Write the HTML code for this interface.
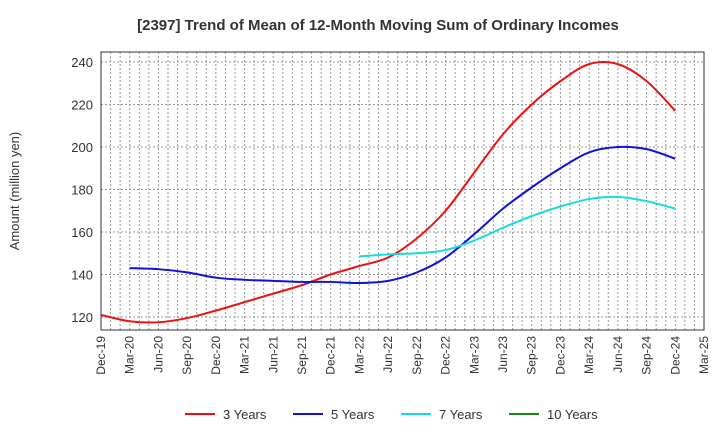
<!DOCTYPE html>
<html><head><meta charset="utf-8"><style>
body{margin:0;background:#fff;font-family:"Liberation Sans",Arial,sans-serif}
</style></head><body>
<svg width="720" height="440" xmlns="http://www.w3.org/2000/svg" font-family="Liberation Sans, Arial, sans-serif">
<text x="378" y="30" text-anchor="middle" font-size="15" font-weight="bold" fill="#333">[2397]  Trend of Mean of 12-Month Moving Sum of Ordinary Incomes</text>
<text transform="translate(19,191) rotate(-90)" text-anchor="middle" font-size="13" fill="#333">Amount (million yen)</text>
<g id="grid"></g>
<g id="axes"></g>
<g id="series"></g>
<g id="legend"></g>
</svg>
<script>
const xLabels=["Dec-19","Mar-20","Jun-20","Sep-20","Dec-20","Mar-21","Jun-21","Sep-21","Dec-21","Mar-22","Jun-22","Sep-22","Dec-22","Mar-23","Jun-23","Sep-23","Dec-23","Mar-24","Jun-24","Sep-24","Dec-24","Mar-25"];
const yTicks=[120,140,160,180,200,220,240];
const s3=[121,118,117.5,119.5,123,127,131,135,140,144,148,157,170,188,206,220,231,239,239,231,217];
const s5=[null,143,142.5,141,138.5,137.5,137,136.5,136.5,136,137,141,148,159,171,181,190,197.5,200,199,194.5];
const s7=[null,null,null,null,null,null,null,null,null,148.5,149.5,150,151.5,156,162,167.5,172,175.5,176.5,174.5,171];
const s10=[];
const seriesNames=["3 Years","5 Years","7 Years","10 Years"];
const colors=["#ee1111","#1111dd","#11dddd","#118811"];
const L=101,R=704,T=52,B=330;
const NS="http://www.w3.org/2000/svg";
const qx=i=>L+i*(R-L)/(xLabels.length-1);
const yv=v=>317-(v-120)*(317-62)/120;
function mk(t,a,p){const e=document.createElementNS(NS,t);for(const k in a)e.setAttribute(k,a[k]);p.appendChild(e);return e;}
const g=document.getElementById('grid'),ax=document.getElementById('axes'),sg=document.getElementById('series'),lg=document.getElementById('legend');
const nm=(xLabels.length-1)*3;
for(let m=1;m<nm;m++){const x=L+m*(R-L)/nm;const l=mk('line',{x1:x,x2:x,y1:T,y2:B,stroke:'#999','stroke-dasharray':'2,2','stroke-width':1},g);

}
yTicks.forEach(v=>{const y=yv(v);const l=mk('line',{x1:L,x2:R,y1:y,y2:y,stroke:'#999','stroke-dasharray':'2,2'},g);


const t=mk('text',{x:L-8,y:y+5,'text-anchor':'end','font-size':13,fill:'#333'},ax);t.textContent=v;

});
xLabels.forEach((s,i)=>{const x=qx(i);const t=mk('text',{transform:`translate(${x+4},${B+6}) rotate(-90)`,'text-anchor':'end','font-size':12,fill:'#333'},ax);t.textContent=s;

});
const fr=mk('rect',{x:L,y:T,width:R-L,height:B-T,fill:'none',stroke:'#333','stroke-width':1},ax);


function path(arr){const pts=[];arr.forEach((v,i)=>{if(v!=null)pts.push([qx(i),yv(v)]);});if(pts.length<2)return '';
let d=`M${pts[0][0]},${pts[0][1]}`;for(let i=0;i<pts.length-1;i++){const p0=pts[Math.max(0,i-1)],p1=pts[i],p2=pts[i+1],p3=pts[Math.min(pts.length-1,i+2)];
d+=` C${p1[0]+(p2[0]-p0[0])/6},${p1[1]+(p2[1]-p0[1])/6} ${p2[0]-(p3[0]-p1[0])/6},${p2[1]-(p3[1]-p1[1])/6} ${p2[0]},${p2[1]}`;}return d;}
[s3,s5,s7,s10].forEach((a,k)=>{const d=path(a);if(!d)return;const p=mk('path',{d:d,fill:'none',stroke:colors[k],'stroke-width':2},sg);

});
const lx=[185,293,401,509];
seriesNames.forEach((n,k)=>{const e=mk('g',{},lg);


mk('line',{x1:lx[k],x2:lx[k]+30,y1:414,y2:414,stroke:colors[k],'stroke-width':2},e);
const t=mk('text',{x:lx[k]+38,y:419,'font-size':13,fill:'#333'},e);t.textContent=n;});
</script>
</body></html>
